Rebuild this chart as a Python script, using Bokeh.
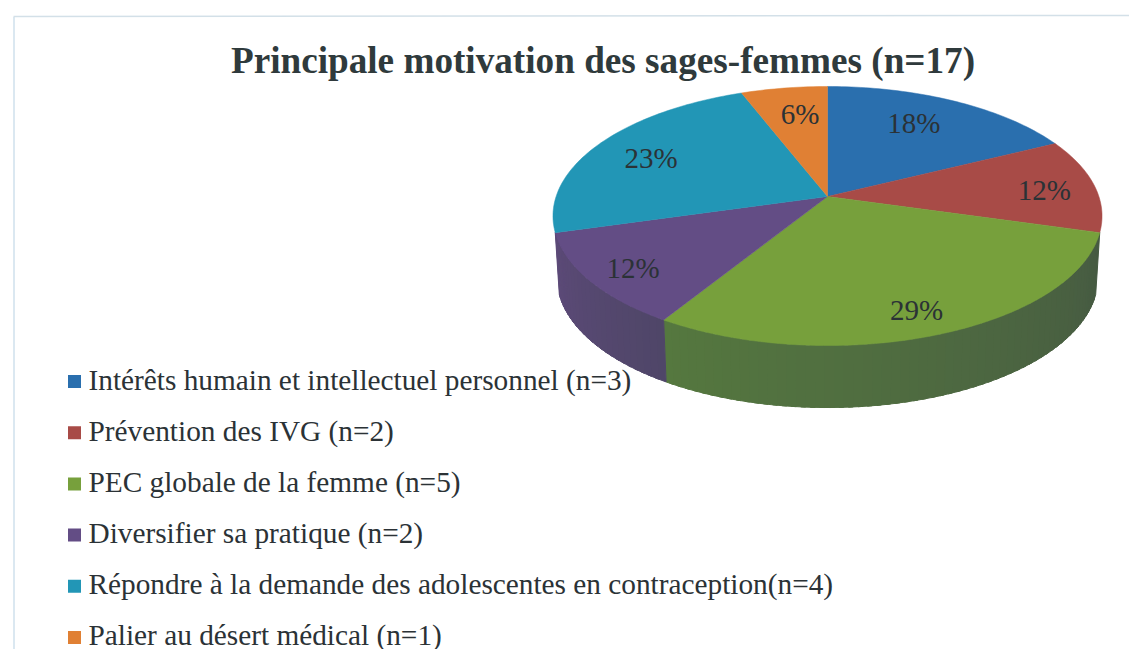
import math
from bokeh.plotting import figure
from bokeh.embed import file_html
from bokeh.resources import INLINE
from bokeh.core.properties import value as fontval

TITLE = "Principale motivation des sages-femmes (n=17)"
labels = ["Intérêts humain et intellectuel personnel (n=3)", "Prévention des IVG (n=2)",
          "PEC globale de la femme (n=5)", "Diversifier sa pratique (n=2)",
          "Répondre à la demande des adolescentes en contraception(n=4)", "Palier au désert médical (n=1)"]
counts = [3, 2, 5, 2, 4, 1]
pct_labels = ["18%", "12%", "29%", "12%", "23%", "6%"]
colors = ["#2a6fae", "#a84b47", "#77a03c", "#634d85", "#2296b6", "#e08034"]
side_near = ["#2a6fae", "#a84b47", "#55783f", "#5c4a78", "#2296b6", "#e08034"]
side_far = ["#2a6fae", "#a84b47", "#465a42", "#4f4668", "#2296b6", "#e08034"]
label_r = [0.68, 0.80, 0.83, 0.85, 0.75, 0.72]
label_nudge = [(-3, -6), (3, 3), (-3, 3), (5, 1), (-3, 2), (5, -2)]

W, H = 1129, 649
CX, CY, A, B, K = 827.0, 196.0, 271.4, 126.6, 0.1506
DEPTH, SHRINK = 62.0, 0.985


def proj(theta, r=1.0):
    u, v = r * math.sin(theta), r * math.cos(theta)
    d = 1 + K * v
    return CX + A * u / d, CY - B * v / d


def proj_bottom(theta):
    x, y = proj(theta)
    return CX + (x - CX) * SHRINK, y + DEPTH


def hex_mix(a, b, t):
    ca = [int(a[i:i + 2], 16) for i in (1, 3, 5)]
    cb = [int(b[i:i + 2], 16) for i in (1, 3, 5)]
    return "#%02x%02x%02x" % tuple(round(p + (q - p) * t) for p, q in zip(ca, cb))


p = figure(width=W, height=H, x_range=(0, W), y_range=(H, 0), output_backend="svg",
           toolbar_location=None, min_border=0, outline_line_color=None,
           border_fill_color="white", background_fill_color="white")
p.axis.visible = False
p.grid.visible = False

# scan frame
p.line([13.5, 13.5], [649, 16.5], line_color="#cfe1ec", line_width=1.5)
p.line([13, 1129], [16, 15], line_color="#d3e0e8", line_width=1.5)

total = sum(counts)
edges = [0.0]
for c in counts:
    edges.append(edges[-1] + c / total * 2 * math.pi)

# side walls (only slices whose middle faces the viewer)
for i in range(len(counts)):
    a0, a1 = edges[i], edges[i + 1]
    mid = (a0 + a1) / 2
    if not (math.pi / 2 < mid < 3 * math.pi / 2):
        continue
    n = max(2, int((a1 - a0) / 0.03))
    for j in range(n):
        t0 = a0 + (a1 - a0) * j / n
        t1 = min(a0 + (a1 - a0) * (j + 1.5) / n, a1)
        xs, ys = [], []
        for t in (t0, t1):
            x, y = proj(t)
            xs.append(x); ys.append(y)
        for t in (t1, t0):
            x, y = proj_bottom(t)
            xs.append(x); ys.append(y)
        f = (a1 - (t0 + t1) / 2) / (a1 - a0)
        col = hex_mix(side_near[i], side_far[i], f)
        p.patch(xs, ys, fill_color=col, line_color=col, line_width=1)

# top faces
for i in range(len(counts)):
    a0, a1 = edges[i], edges[i + 1]
    n = max(4, int((a1 - a0) / 0.02))
    pts = [proj(a0 + (a1 - a0) * j / n) for j in range(n + 1)]
    xs = [CX] + [q[0] for q in pts]
    ys = [CY] + [q[1] for q in pts]
    p.patch(xs, ys, fill_color=colors[i], line_color=colors[i], line_width=0.5)

# percentage labels
for i, s in enumerate(pct_labels):
    x, y = proj((edges[i] + edges[i + 1]) / 2, label_r[i])
    p.text([x + label_nudge[i][0]], [y + label_nudge[i][1]], text=[s], text_font=fontval("Liberation Serif"),
           text_font_size="29px", text_color="#2b3236", text_align="center", text_baseline="middle")

# title
p.text([602.5], [60], text=[TITLE], text_font=fontval("Liberation Serif"), text_font_size="37.2px",
       text_font_style="bold", text_color="#2f3a3c", text_align="center", text_baseline="middle")

# legend
for i, s in enumerate(labels):
    p.rect([74], [381 + i * 51.2], width=13, height=13, fill_color=colors[i], line_color=None)
    p.text([88], [379 + i * 51.0], text=[s], text_font=fontval("Liberation Serif"), text_font_size="29.3px",
           text_color="#2b3236", text_align="left", text_baseline="middle")

open("out.html", "w").write(file_html(p, INLINE))
